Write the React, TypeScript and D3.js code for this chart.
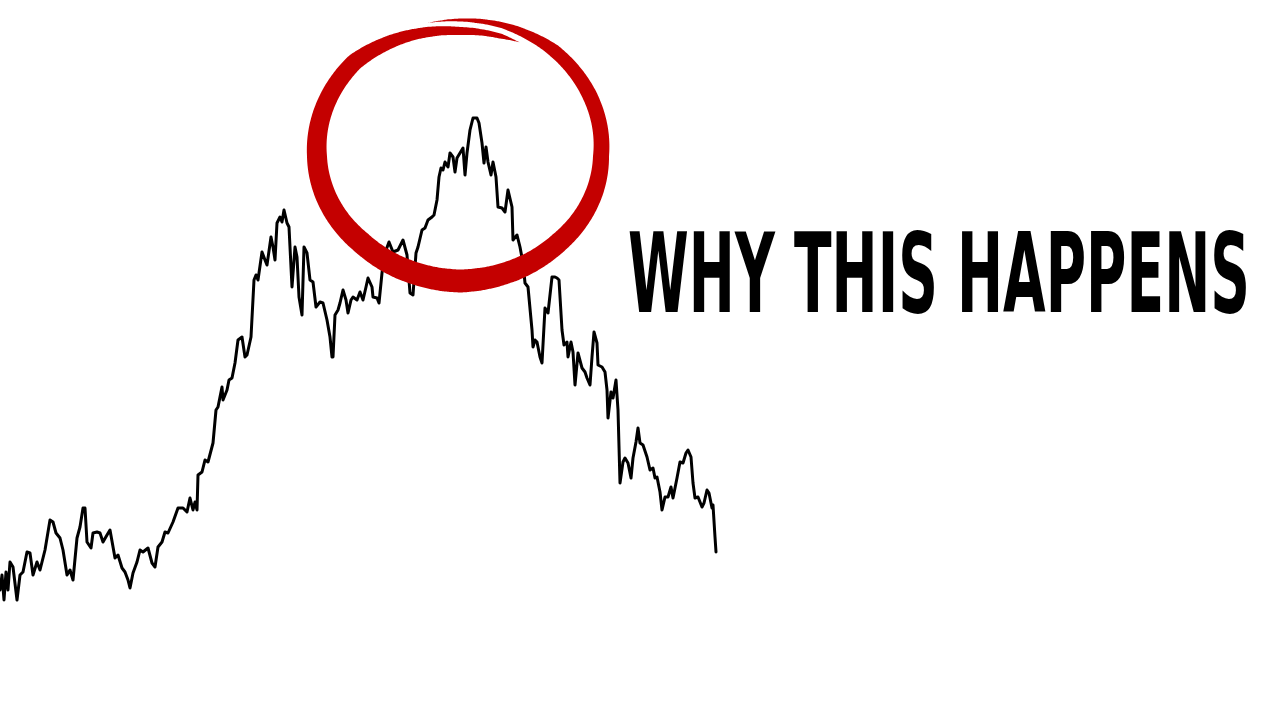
import React, { useEffect, useRef } from 'react';
import * as d3 from 'd3';

// [day, price]
const priceHistory: [number, number][] = [
  [0, 60], [2, 75], [4, 50], [6, 78], [8, 60], [10, 88], [13, 83], [17, 50], [20, 75], [23, 78],
  [27, 98], [30, 97], [33, 75], [37, 88], [40, 80], [45, 100], [50, 130], [53, 128], [56, 117], [60, 112],
  [63, 100], [67, 75], [70, 80], [73, 70], [77, 112], [80, 123], [83, 142], [85, 142], [87, 108], [91, 102],
  [93, 117], [97, 118], [100, 117], [103, 108], [107, 115], [110, 120], [115, 92], [118, 95], [122, 82], [125, 78],
  [128, 70], [130, 62], [133, 77], [137, 88], [140, 100], [143, 98], [148, 102], [152, 87], [155, 83], [158, 103],
  [162, 108], [165, 118], [168, 117], [173, 128], [178, 142], [183, 142], [187, 138], [190, 152], [193, 140], [195, 148],
  [197, 140], [198, 175], [202, 178], [205, 190], [208, 188], [213, 207], [216, 240], [218, 243], [222, 263], [223, 250],
  [227, 260], [229, 270], [232, 272], [235, 287], [238, 310], [242, 313], [245, 293], [247, 295], [251, 313], [254, 370],
  [256, 375], [258, 370], [262, 398], [265, 390], [267, 385], [271, 413], [273, 403], [275, 390], [277, 427], [280, 433],
  [282, 428], [284, 440], [287, 427], [289, 423], [292, 363], [295, 403], [297, 393], [299, 353], [302, 335], [304, 403],
  [307, 397], [310, 370], [313, 368], [316, 343], [320, 348], [323, 347], [327, 330], [330, 313], [332, 293], [333, 293],
  [335, 335], [338, 340], [340, 347], [343, 360], [346, 350], [348, 337], [351, 350], [353, 353], [357, 350], [360, 358],
  [363, 350], [366, 363], [368, 372], [372, 363], [373, 353], [377, 352], [379, 347], [382, 377], [385, 397], [389, 408],
  [393, 398], [398, 400], [403, 410], [407, 395], [410, 357], [413, 355], [416, 397], [418, 403], [422, 420], [425, 422],
  [428, 430], [432, 433], [434, 435], [437, 450], [439, 473], [441, 482], [443, 480], [445, 488], [448, 483], [450, 497],
  [453, 493], [455, 478], [457, 492], [460, 497], [463, 502], [465, 475], [467, 497], [470, 520], [473, 532], [477, 532],
  [479, 527], [482, 507], [484, 487], [486, 503], [488, 488], [491, 475], [493, 488], [496, 473], [498, 443], [502, 442],
  [505, 438], [508, 460], [512, 443], [513, 410], [517, 415], [520, 403], [523, 387], [525, 367], [528, 363], [532, 320],
  [533, 303], [535, 310], [537, 308], [540, 293], [542, 287], [545, 342], [548, 337], [552, 373], [555, 373], [557, 372],
  [559, 370], [562, 320], [564, 305], [567, 308], [568, 293], [571, 308], [573, 298], [575, 265], [578, 297], [582, 282],
  [585, 278], [587, 272], [590, 265], [592, 293], [594, 318], [597, 307], [598, 285], [602, 283], [605, 278], [607, 260],
  [608, 232], [611, 258], [613, 252], [616, 270], [618, 240], [620, 167], [623, 188], [625, 192], [628, 187], [631, 172],
  [633, 192], [636, 208], [638, 222], [640, 207], [643, 205], [647, 193], [650, 180], [653, 182], [655, 172], [657, 173],
  [660, 158], [662, 140], [665, 153], [668, 153], [671, 163], [673, 152], [677, 172], [680, 188], [683, 187], [686, 197],
  [688, 200], [691, 193], [693, 167], [695, 152], [698, 153], [702, 143], [704, 147], [707, 160], [709, 157], [712, 142],
  [713, 145], [715, 113], [716, 98],
];

const dayDomain: [number, number] = [0, 716];
const priceDomain: [number, number] = [0, 600];

// highlighted top: centre (day, price) and radii in days / price units
const highlight = { day: 460, price: 494, rDays: 143, rPrice: 125 };

const title = 'WHY THIS HAPPENS';

const W = 1280;
const H = 720;

const App: React.FC = () => {
  const svgRef = useRef<SVGSVGElement>(null);

  useEffect(() => {
    if (!svgRef.current) return;
    const svg = d3.select(svgRef.current);
    svg.selectAll('*').remove();

    const x = d3.scaleLinear().domain(dayDomain).range([0, 716]);
    const y = d3.scaleLinear().domain(priceDomain).range([650, 50]);

    svg.append('rect').attr('width', W).attr('height', H).attr('fill', '#ffffff');

    const line = d3.line<[number, number]>()
      .x(d => x(d[0]))
      .y(d => y(d[1]));

    svg.append('path')
      .datum(priceHistory)
      .attr('d', line)
      .attr('fill', 'none')
      .attr('stroke', '#000')
      .attr('stroke-width', 3)
      .attr('stroke-linejoin', 'round')
      .attr('stroke-linecap', 'round');

    // hand-drawn red ring: one brush stroke going clockwise from the top,
    // a bit more than a full turn, with varying radius offset and width
    const cx = x(highlight.day);
    const cy = y(highlight.price);
    const rx = x(highlight.rDays) - x(0);
    const ry = y(0) - y(highlight.rPrice);

    const keyT = [-1.78, -1.57, -1.3, -0.9, -0.5, 0, 0.785, 1.57, 2.36, 3.14, 3.93, 4.4, 4.71, 5.0, 5.14];
    const keyD = [11, 11, 11, 9, 4, -2, -3, 0, -3, 0, 7, 3, 0, 0, 0];
    const keyW = [0, 3, 6, 13, 15, 16, 20, 23, 22, 20, 17, 11, 8, 5, 0];
    const dAt = d3.scaleLinear().domain(keyT).range(keyD).clamp(true);
    const wAt = d3.scaleLinear().domain(keyT).range(keyW).clamp(true);

    const n = 500;
    const outer: [number, number][] = [];
    const inner: [number, number][] = [];
    for (let i = 0; i <= n; i++) {
      const t = keyT[0] + (keyT[keyT.length - 1] - keyT[0]) * (i / n);
      const d = dAt(t);
      const w = wAt(t);
      const a = rx + d;
      const b = ry + d;
      const px = cx + a * Math.cos(t);
      const py = cy + b * Math.sin(t);
      let nx = Math.cos(t) * b;
      let ny = Math.sin(t) * a;
      const len = Math.hypot(nx, ny);
      nx /= len;
      ny /= len;
      outer.push([px + nx * w / 2, py + ny * w / 2]);
      inner.push([px - nx * w / 2, py - ny * w / 2]);
    }
    const ring = outer.concat(inner.reverse());
    svg.append('path')
      .attr('d', d3.line().curve(d3.curveCatmullRom)(ring) + 'Z')
      .attr('fill', '#c40000');

    const label = svg.append('text')
      .attr('x', 0)
      .attr('y', 0)
      .attr('font-family', "'Liberation Sans Narrow', 'DejaVu Sans Condensed', sans-serif")
      .attr('font-weight', 'bold')
      .attr('font-size', 110)
      .attr('fill', '#000')
      .text(title);
    const natural = (label.node() as SVGTextElement).getComputedTextLength() || 622;
    label.attr('transform', `translate(628,312) scale(${622 / natural},1)`);
  }, []);

  return (
    <svg
      ref={svgRef}
      width={W}
      height={H}
      style={{ position: 'absolute', left: 0, top: 0, display: 'block' }}
    />
  );
};

export default App;
